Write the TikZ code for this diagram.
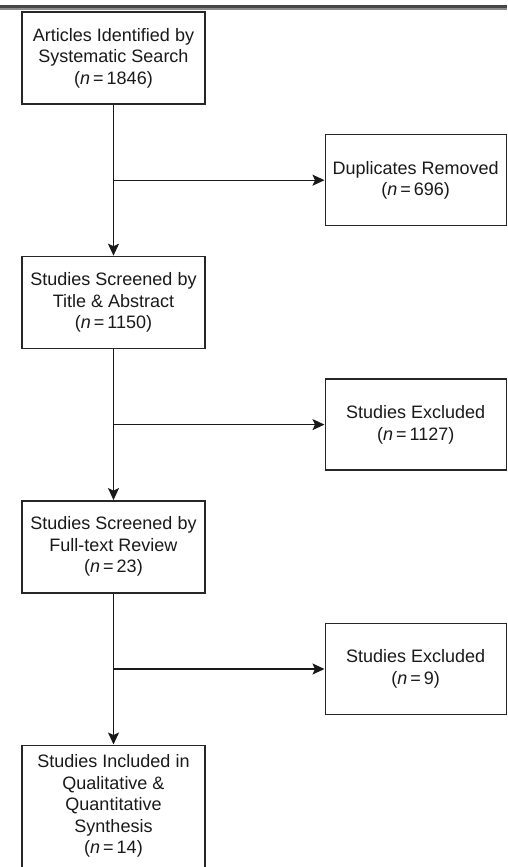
\documentclass[tikz,border=0pt]{standalone}
\usepackage{fontspec}
\setmainfont{Liberation Sans}
\usetikzlibrary{
        arrows.meta,
        calc,
        positioning
    }
\tikzset{>={Stealth[length=12pt,width=11pt,inset=2.5pt]},node distance=151pt}
\tikzset{box/.style={draw=black!85,line width=1.4pt,minimum width=183pt,minimum height=92pt,
        align=center,text=black!90,font=\fontsize{18}{21.5}\selectfont}}
\tikzset{sidebox/.style={box,minimum width=181pt,minimum height=91pt}}
\tikzset{flow/.style={->,draw=black!90,line width=1.4pt}}
\newcommand{\nval}[1]{(\textit{n}\,=\,#1)}

\begin{document}
\begin{tikzpicture}
                \useasboundingbox (0,0) rectangle (507pt,-867pt);
                % rule at the top of the page
                \fill[black!72] (0,-5.5pt) rectangle (507pt,-8.5pt);
                \fill[black!45] (0,-8.5pt) rectangle (507pt,-10pt);
                \node[box] (art) at (113.5pt,-58pt) {Articles Identified by\\Systematic Search\\\nval{1846}};
                \node[box] (scr) [below=of art] {Studies Screened by\\Title \& Abstract\\\nval{1150}};
                \node[box] (full) [below=of scr] {Studies Screened by\\Full-text Review\\\nval{23}};
                \node[box,minimum height=122pt] (incl) [below=of full] {Studies Included in\\Qualitative \&\\Quantitative\\Synthesis\\\nval{14}};
                \coordinate (j1) at ($(art.south)!0.5!(scr.north)$);
                \coordinate (j2) at ($(scr.south)!0.5!(full.north)$);
                \coordinate (j3) at ($(full.south)!0.5!(incl.north)$);
                \node[sidebox] (dup) [right=211pt of j1] {Duplicates Removed\\\nval{696}};
                \node[sidebox] (exa) [right=211pt of j2] {Studies Excluded\\\nval{1127}};
                \node[sidebox] (exb) [right=211pt of j3] {Studies Excluded\\\nval{9}};
                \draw[flow] (art.south) -- (scr.north);
                \draw[flow] (scr.south) -- (full.north);
                \draw[flow] (full.south) -- (incl.north);
                \draw[flow] (j1) -- (dup.west);
                \draw[flow] (j2) -- (exa.west);
                \draw[flow] (j3) -- (exb.west);
            \end{tikzpicture}
\end{document}
